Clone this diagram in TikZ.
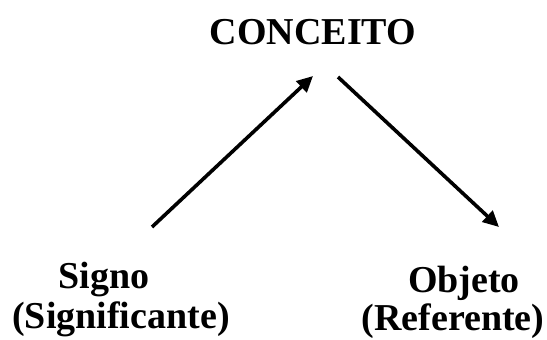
\documentclass[tikz,border=0pt]{standalone}
\usepackage{fontspec}
\setmainfont{Liberation Serif}
\usetikzlibrary{arrows.meta}
\begin{document}
\begin{tikzpicture}[x=1pt,y=-1pt,
  lbl/.style={anchor=base,inner sep=0pt,font=\fontsize{38}{42}\selectfont\bfseries},
  arr/.style={line width=3.6pt,-{Triangle[length=16pt,width=15pt]}}]
\useasboundingbox (0,0) rectangle (547,340);
\node[lbl] (conceito) at (313,45) {CONCEITO};
\node[lbl] (signo) at (104,288) {Signo};
\node[lbl] (signif) at (121,328) {(Significante)};
\node[lbl] (objeto) at (464,292) {Objeto};
\node[lbl] (refer) at (453,330) {(Referente)};
\coordinate (a1s) at (152,227);
\coordinate (a1e) at (313,76);
\coordinate (a2s) at (338,77);
\coordinate (a2e) at (499,227);
\draw[arr] (a1s) -- (a1e);
\draw[arr] (a2s) -- (a2e);
\end{tikzpicture}
\end{document}
